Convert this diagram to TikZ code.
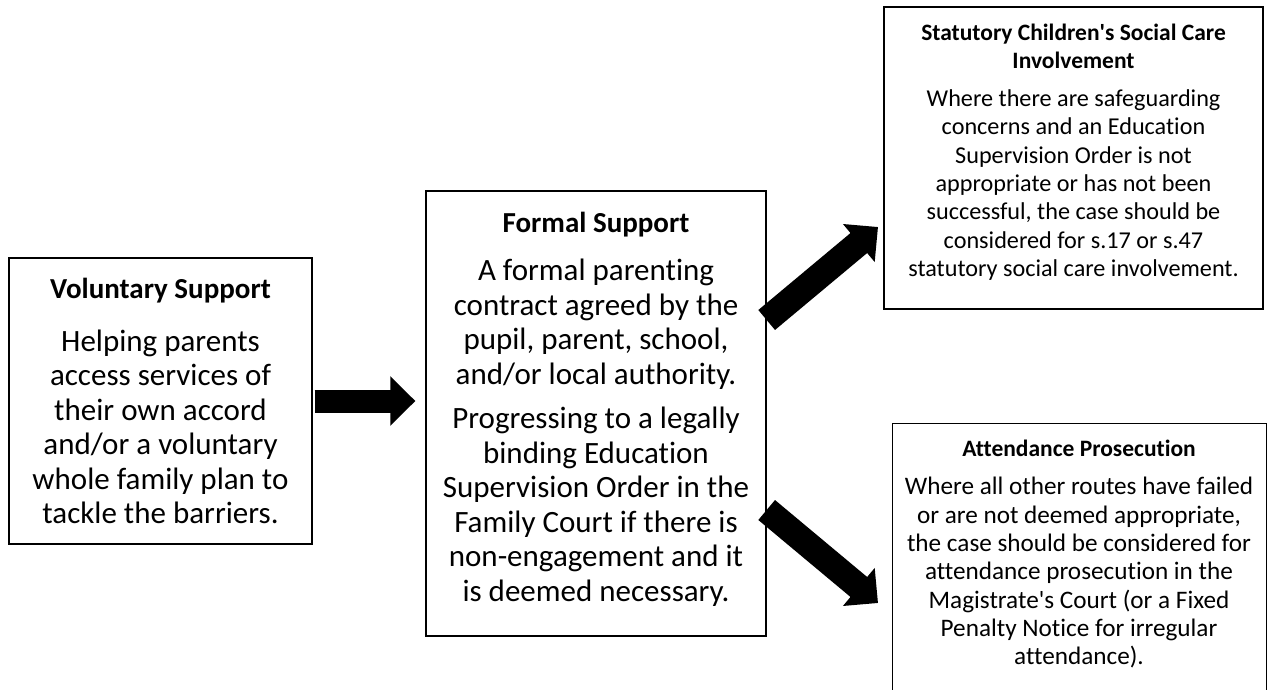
\documentclass[tikz,border=0pt]{standalone}
\usepackage{fontspec}
\setmainfont{Carlito}[Ligatures=NoCommon]
\usetikzlibrary{arrows.meta}
\newcommand{\ttlA}{\fontsize{29}{34.5}\selectfont\bfseries}
\newcommand{\ttlC}{\fontsize{23.5}{27}\selectfont\bfseries}
\newcommand{\apos}{\textquotesingle}
\begin{document}
\begin{tikzpicture}[x=1pt,y=-1pt,
  box/.style={draw=black, line width=1.3pt, fill=white, align=center, inner sep=0pt},
  txt/.style={align=center, inner sep=0pt},
  bodyA/.style={font=\fontsize{31}{34.5}\selectfont},
  bodyC/.style={font=\fontsize{24.2}{28.3}\selectfont},
  bodyD/.style={font=\fontsize{25.2}{28.3}\selectfont},
  bigarrow/.style={line width=#1, -{Triangle[length=25pt,width=48pt]}},
  bigarrow/.default=23pt]
\clip (0,0) rectangle (1267,690);
\fill[white] (0,0) rectangle (1267,690);
% boxes
\node[box, bodyA, minimum width=303pt, minimum height=286pt] (A) at (160.5,401)
  {\ttlA Voluntary Support\\[18pt]
   Helping parents\\ access services of\\ their own accord\\ and/or a voluntary\\ whole family plan to\\ tackle the barriers.};
\node[box, minimum width=340pt, minimum height=445pt] (B) at (596,413.5) {};
\node[txt, bodyA] (Bt) at (596,409)
  {\ttlA Formal Support\\[14pt]
   A formal parenting\\ contract agreed by the\\ pupil, parent, school,\\ and/or local authority.\\[10pt]
   Progressing to a legally\\ binding Education\\ Supervision Order in the\\ Family Court if there is\\ non-engagement and it\\ is deemed necessary.};
\node[box, minimum width=379pt, minimum height=302pt] (C) at (1073.5,158) {};
\node[txt, bodyC] (Ct) at (1073.5,152)
  {\ttlC Statutory Children\apos s Social Care\\ \ttlC Involvement\\[10pt]
   Where there are safeguarding\\ concerns and an Education\\ Supervision Order is not\\ appropriate or has not been\\ successful, the case should be\\ considered for s.17 or s.47\\ statutory social care involvement.};
\node[box, minimum width=374pt, minimum height=300pt, anchor=north west] (D) at (892,423) {};
\node[txt, bodyD, anchor=north] (Dt) at (1079,440)
  {\ttlC Attendance Prosecution\\[10pt]
   Where all other routes have failed\\ or are not deemed appropriate,\\ the case should be considered for\\ attendance prosecution in the\\ Magistrate\apos s Court (or a Fixed\\ Penalty Notice for irregular\\ attendance).};
% arrows
\coordinate (h) at (0,401);
\coordinate (u) at (0,320);
\coordinate (l) at (0,510);
\coordinate (ut) at (878,227);
\coordinate (lt) at (878,603);
\draw[bigarrow] ([xshift=2pt]A.east |- h) -- ([xshift=-10pt]B.west |- h);
\draw[bigarrow=26pt] (B.east |- u) -- (ut);
\draw[bigarrow=26pt] (B.east |- l) -- (lt);
\end{tikzpicture}
\end{document}
